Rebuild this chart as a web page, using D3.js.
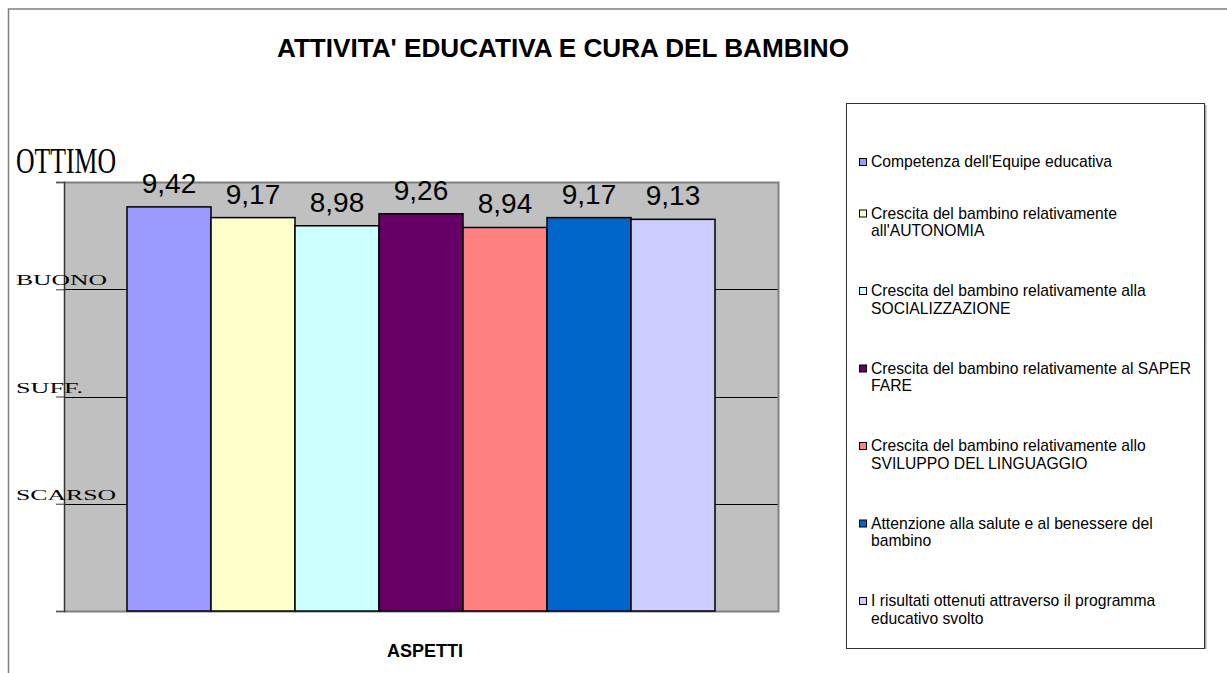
<!DOCTYPE html>
<html>
<head>
<meta charset="utf-8">
<script src="https://cdn.jsdelivr.net/npm/d3@7"></script>
<style>
  html, body { margin: 0; padding: 0; background: #fff; }
  svg { display: block; }
</style>
</head>
<body>
<div id="chart"></div>
<script>
// Data
const categories = [
  "Competenza dell'Equipe educativa",
  "Crescita del bambino relativamente\nall'AUTONOMIA",
  "Crescita del bambino relativamente alla\nSOCIALIZZAZIONE",
  "Crescita del bambino relativamente al SAPER\nFARE",
  "Crescita del bambino relativamente allo\nSVILUPPO DEL LINGUAGGIO",
  "Attenzione alla salute e al benessere del\nbambino",
  "I risultati ottenuti attraverso il programma\neducativo svolto"
];
const values = [9.42, 9.17, 8.98, 9.26, 8.94, 9.17, 9.13];
const colors = ["#9999FF", "#FFFFCC", "#CCFFFF", "#660066", "#FF8080", "#0066CC", "#CCCCFF"];
const yTicks = [0, 2.5, 5, 7.5, 10];
const yLevels = [2.5, 5, 7.5, 10];
const yLevelLabels = ["SCARSO", "SUFF.", "BUONO", "OTTIMO"];

const W = 1227, H = 673;
const plot = {left: 64, right: 778, top: 182, bottom: 611};

const svg = d3.select("#chart").append("svg")
  .attr("width", W)
  .attr("height", H);

// outer frame (only left and top edges visible)
svg.append("path")
  .attr("d", `M8.5,${H} L8.5,9 L${W},9`)
  .attr("fill", "none")
  .attr("stroke", "#808080")
  .attr("stroke-width", 1.5);

const x = d3.scaleBand()
  .domain(d3.range(values.length))
  .range([plot.left, plot.right])
  .paddingInner(0)
  .paddingOuter(0.75);

const y = d3.scaleLinear()
  .domain([0, 10])
  .range([plot.bottom, plot.top]);

// plot background
svg.append("rect")
  .attr("x", plot.left)
  .attr("y", plot.top)
  .attr("width", plot.right - plot.left)
  .attr("height", plot.bottom - plot.top)
  .attr("fill", "#C0C0C0");

// gridlines
svg.selectAll(".grid")
  .data(yLevels.filter(v => v < 10))
  .enter()
  .append("line")
  .attr("x1", plot.left)
  .attr("x2", plot.right)
  .attr("y1", d => Math.round(y(d)) + 0.5)
  .attr("y2", d => Math.round(y(d)) + 0.5)
  .attr("stroke", "#000")
  .attr("stroke-width", 1);

// plot border: top/right/bottom gray
svg.append("path")
  .attr("d", `M${plot.left},${plot.top + 0.5} L${plot.right + 0.5},${plot.top + 0.5} L${plot.right + 0.5},${plot.bottom + 0.5} L${plot.left},${plot.bottom + 0.5}`)
  .attr("fill", "none")
  .attr("stroke", "#808080")
  .attr("stroke-width", 2);

// bars
svg.selectAll(".bar")
  .data(values)
  .enter()
  .append("rect")
  .attr("class", "bar")
  .attr("x", (d, i) => x(i))
  .attr("y", d => y(d))
  .attr("width", x.bandwidth())
  .attr("height", d => plot.bottom - y(d))
  .attr("fill", (d, i) => colors[i])
  .attr("stroke", "#000")
  .attr("stroke-width", 1.5);

// value labels
svg.selectAll(".val")
  .data(values)
  .enter()
  .append("text")
  .attr("x", (d, i) => x(i) + x.bandwidth() / 2)
  .attr("y", d => y(d) - 14)
  .attr("text-anchor", "middle")
  .attr("font-family", "Liberation Sans, Arial, sans-serif")
  .attr("font-size", "28px")
  .attr("fill", "#000")
  .text(d => d.toFixed(2).replace(".", ","));

// y axis
const yAxis = svg.append("g")
  .attr("transform", `translate(${plot.left},0)`)
  .call(d3.axisLeft(y).tickValues(yTicks).tickSize(8).tickFormat(""));
yAxis.select(".domain").attr("stroke", "#333").attr("stroke-width", 1.5);
yAxis.selectAll(".tick line").attr("stroke", "#555").attr("stroke-width", 1.2);

// y level labels (serif, stretched)
const levelWidths = {"SCARSO": 100, "SUFF.": 67, "BUONO": 91, "OTTIMO": 100};
svg.selectAll(".lvl")
  .data(yLevels)
  .enter()
  .append("text")
  .attr("x", 16)
  .attr("y", d => d === 10 ? y(d) - 9 : y(d) - 4)
  .attr("font-family", "Liberation Serif, Times New Roman, serif")
  .attr("font-size", d => d === 10 ? "36px" : "15.5px")
  .attr("textLength", (d, i) => levelWidths[yLevelLabels[i]])
  .attr("lengthAdjust", "spacingAndGlyphs")
  .attr("fill", "#000")
  .text((d, i) => yLevelLabels[i]);

// title
svg.append("text")
  .attr("x", 563)
  .attr("y", 57)
  .attr("text-anchor", "middle")
  .attr("font-family", "Liberation Sans, Arial, sans-serif")
  .attr("font-weight", "bold")
  .attr("font-size", "25px")
  .attr("textLength", 572)
  .attr("lengthAdjust", "spacingAndGlyphs")
  .text("ATTIVITA' EDUCATIVA E CURA DEL BAMBINO");

// x axis title
svg.append("text")
  .attr("x", 425)
  .attr("y", 657)
  .attr("text-anchor", "middle")
  .attr("font-family", "Liberation Sans, Arial, sans-serif")
  .attr("font-weight", "bold")
  .attr("font-size", "18px")
  .text("ASPETTI");

// legend
const lg = {left: 846, top: 103, right: 1204, bottom: 648};
svg.append("line")
  .attr("x1", lg.right + 1.5).attr("x2", lg.right + 1.5)
  .attr("y1", lg.top + 2).attr("y2", lg.bottom + 1)
  .attr("stroke", "#aaa").attr("stroke-width", 2);
svg.append("rect")
  .attr("x", lg.left + 0.5)
  .attr("y", lg.top + 0.5)
  .attr("width", lg.right - lg.left)
  .attr("height", lg.bottom - lg.top)
  .attr("fill", "#fff")
  .attr("stroke", "#333")
  .attr("stroke-width", 1);

const itemBaseline = i => i === 0 ? 167 : 218.5 + (i - 1) * 77.5;
const items = svg.selectAll(".lg-item")
  .data(categories)
  .enter()
  .append("g")
  .attr("transform", (d, i) => `translate(0,${itemBaseline(i)})`);

items.append("rect")
  .attr("x", 859.5)
  .attr("y", -8.5)
  .attr("width", 7)
  .attr("height", 7)
  .attr("fill", (d, i) => colors[i])
  .attr("stroke", "#000")
  .attr("stroke-width", 1);

items.append("text")
  .attr("font-family", "Liberation Sans, Arial, sans-serif")
  .attr("font-size", "15.7px")
  .attr("fill", "#000")
  .selectAll("tspan")
  .data(d => d.split("\n"))
  .enter()
  .append("tspan")
  .attr("x", 871)
  .attr("y", (d, j) => j * 17.5)
  .text(d => d);
</script>
</body>
</html>
